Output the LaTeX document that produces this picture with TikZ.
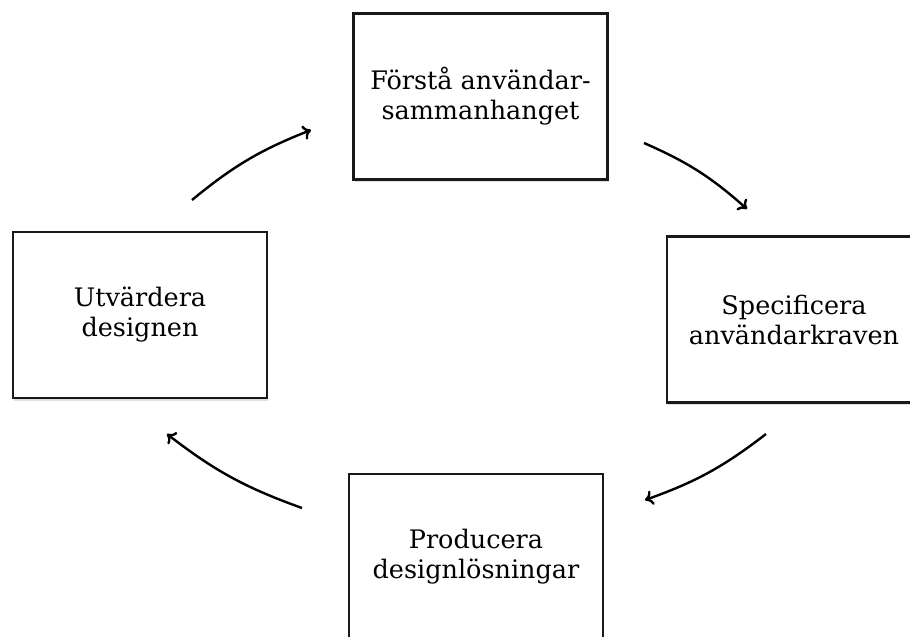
\documentclass[tikz,border=0pt]{standalone}
\usepackage{fontspec}
\setmainfont{DejaVu Serif}
\usetikzlibrary{arrows.meta,shadows}
\begin{document}
\begin{tikzpicture}[x=1pt,y=-1pt,
  stepbox/.style={draw=black!90, line width=2.4pt, fill=white, align=center,
    inner sep=0pt, minimum width=254pt, minimum height=166pt,
    font=\fontsize{25.5}{30}\selectfont,
    drop shadow={opacity=0.25, shadow xshift=1pt, shadow yshift=-2.5pt}},
  cyc/.style={line width=2.4pt, -{To[length=8pt,width=15pt]}, bend left=9}]
\useasboundingbox (0,0) rectangle (910,637);
\node[stepbox] (top) at (480.5,96.5) {Förstå användar-\\sammanhanget};
\node[stepbox] (right) at (794,319.5) {Specificera\\användarkraven};
\node[stepbox] (bottom) at (476,557) {Producera\\designlösningar};
\node[stepbox] (left) at (140,315) {Utvärdera\\designen};
\coordinate (a1) at (192,200); \coordinate (b1) at (311,130);
\coordinate (a2) at (644,143); \coordinate (b2) at (747,209);
\coordinate (a3) at (766,434); \coordinate (b3) at (645,500);
\coordinate (a4) at (302,508); \coordinate (b4) at (167,434);
\draw[cyc] (a1) to (b1);
\draw[cyc] (a2) to (b2);
\draw[cyc] (a3) to (b3);
\draw[cyc] (a4) to (b4);
\end{tikzpicture}
\end{document}
